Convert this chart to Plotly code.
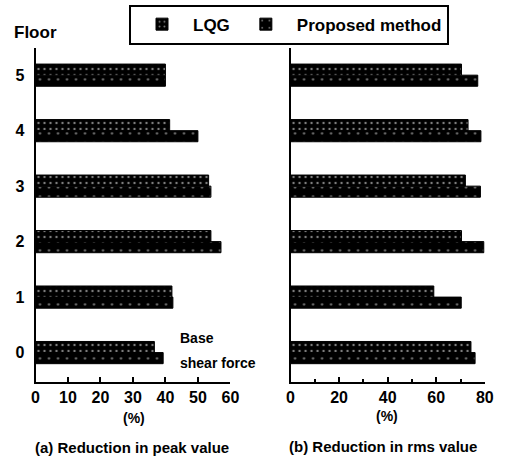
import plotly.graph_objects as go

# Floors and reduction percentages
floors = [0, 1, 2, 3, 4, 5]
floor_labels = ["0", "1", "2", "3", "4", "5"]
peak_lqg = [36.6, 42.0, 54.0, 53.3, 41.3, 40.0]
peak_proposed = [39.3, 42.3, 57.1, 54.0, 50.0, 40.0]
rms_lqg = [74.3, 59.0, 70.4, 72.0, 73.1, 70.4]
rms_proposed = [76.0, 70.3, 79.6, 78.2, 78.4, 77.1]

FONT = "Liberation Sans"
BLACK = "#000000"

lqg_pattern = dict(shape=".", fgcolor="white", bgcolor=BLACK, size=6, solidity=0.12)
prop_pattern = dict(shape=".", fgcolor="white", bgcolor=BLACK, size=9, solidity=0.05)

fig = go.Figure()

def add_pair(xa, ya, lqg, prop, show):
    # proposed first so that it sits below the LQG bar in each group
    fig.add_trace(go.Bar(
        y=floors, x=prop, orientation="h", name="Proposed method",
        marker=dict(color=BLACK, pattern=prop_pattern, line=dict(color=BLACK, width=1)),
        xaxis=xa, yaxis=ya, showlegend=show, legendrank=2, offsetgroup="p",
    ))
    fig.add_trace(go.Bar(
        y=floors, x=lqg, orientation="h", name="LQG",
        marker=dict(color=BLACK, pattern=lqg_pattern, line=dict(color=BLACK, width=1)),
        xaxis=xa, yaxis=ya, showlegend=show, legendrank=1, offsetgroup="l",
    ))

add_pair("x", "y", peak_lqg, peak_proposed, True)
add_pair("x2", "y2", rms_lqg, rms_proposed, False)

axis_font = dict(family=FONT, size=16, color=BLACK, weight="bold")
yrange = [-0.53, 5.49]
ydom = [0.1696, 0.8957]

fig.update_layout(
    width=513, height=460,
    margin=dict(l=0, r=0, t=0, b=0),
    paper_bgcolor="white", plot_bgcolor="white",
    barmode="group", bargap=0.6, bargroupgap=0,
    font=dict(family=FONT, color=BLACK),
    xaxis=dict(domain=[0.063, 0.4528], range=[0, 60], dtick=10, tick0=0,
               showgrid=False, zeroline=False, showline=True, linecolor=BLACK, linewidth=2,
               ticks="inside", ticklen=5, tickwidth=1.5, tickcolor=BLACK,
               tickfont=axis_font, anchor="y"),
    yaxis=dict(domain=ydom, range=yrange, tickvals=floors, ticktext=floor_labels,
               showgrid=False, zeroline=False, showline=True, linecolor=BLACK, linewidth=2,
               ticks="", tickfont=axis_font, ticklabelstandoff=6, anchor="x"),
    xaxis2=dict(domain=[0.5731, 0.9616], range=[0, 80], dtick=20, tick0=0,
                showgrid=False, zeroline=False, showline=True, linecolor=BLACK, linewidth=2,
                ticks="inside", ticklen=5, tickwidth=1.5, tickcolor=BLACK,
                minor=dict(dtick=10, ticks="inside", ticklen=3, tickwidth=1.5, tickcolor=BLACK),
                tickfont=axis_font, anchor="y2"),
    yaxis2=dict(domain=ydom, range=yrange, tickvals=floors, showticklabels=False,
                showgrid=False, zeroline=False, showline=True, linecolor=BLACK, linewidth=2,
                ticks="", anchor="x2"),
    legend=dict(orientation="h", x=0.57, xanchor="center", y=0.99, yanchor="top",
                bordercolor=BLACK, borderwidth=2, bgcolor="white",
                font=dict(family=FONT, size=17, color=BLACK, weight="bold"),
                itemwidth=52, traceorder="normal"),
)

def txt(text, x, y, size, xanchor="center"):
    fig.add_annotation(text=f"<b>{text}</b>", x=x, y=y, xref="paper", yref="paper",
                       xanchor=xanchor, yanchor="middle", showarrow=False,
                       font=dict(family=FONT, size=size, color=BLACK))

W, H = 513, 460
def px(x, y):
    return x / W, 1 - y / H

txt("Floor", *px(32, 32), 17)
txt("Base", *px(179, 338), 14, xanchor="left")
txt("shear force", *px(179, 363), 14, xanchor="left")
txt("(%)", *px(133, 418), 14)
txt("(%)", *px(393, 416), 14)
txt("(a) Reduction in peak value", *px(131, 447), 15)
txt("(b) Reduction in rms value", *px(389, 446), 15)

fig.write_html("out.html")
